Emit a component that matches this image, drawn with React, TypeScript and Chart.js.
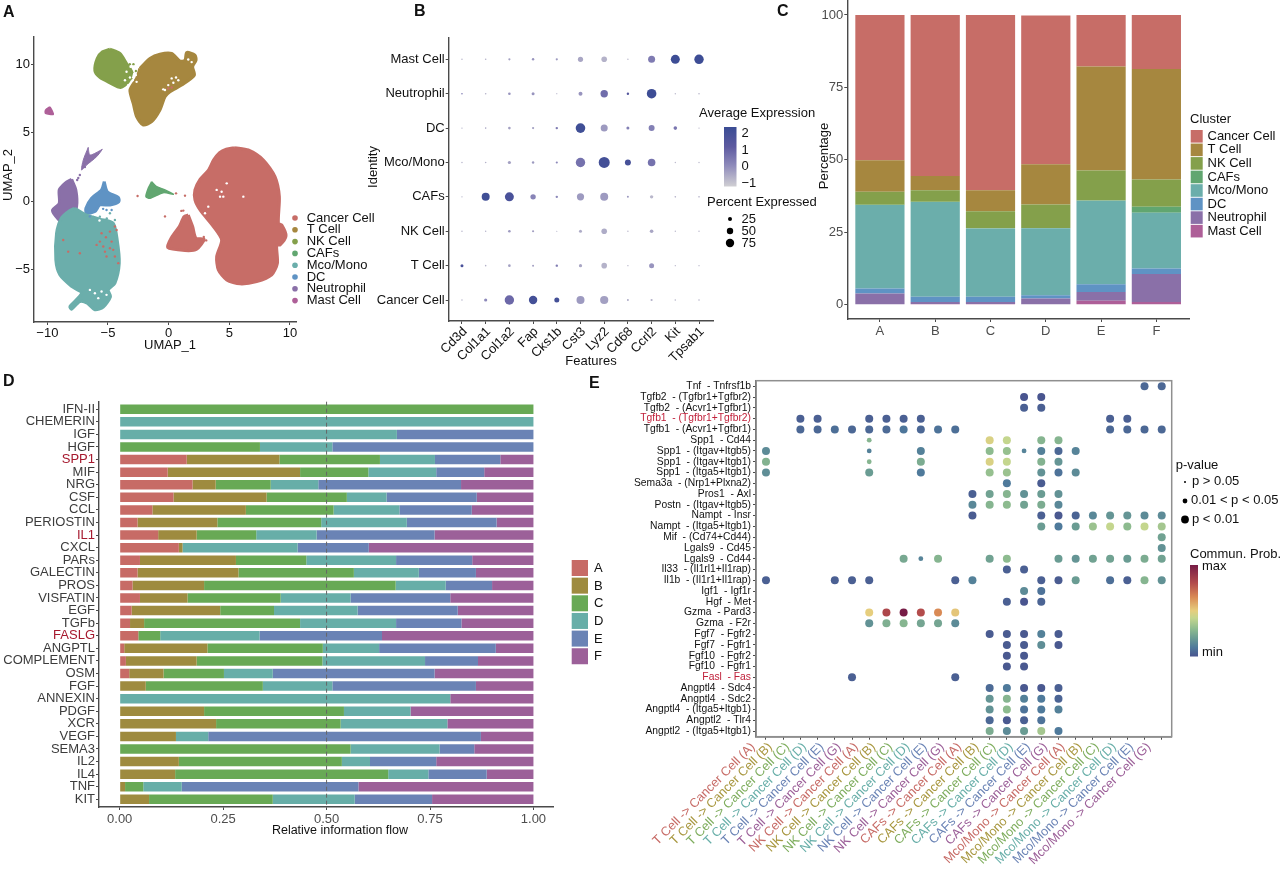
import React, { useEffect, useRef } from "react";
import { Chart, registerables } from "chart.js";

Chart.register(...registerables);

const FONT = "'Liberation Sans', Arial, sans-serif";

// ---------- Panel A : UMAP regions and stray cells (data units) ----------
const cancerMain = [[5.47,3.91],[6.57,3.74],[7.81,3.01],[8.77,1.8],[9.13,0.34],[9.05,-1.6],[9.32,-1.72],[9.68,-2.52],[9.19,-3.18],[8.91,-3.18],[8.97,-4.51],[8.5,-5.36],[7.26,-5.85],[5.89,-6.02],[4.79,-5.73],[4.1,-5],[3.96,-4.03],[4.37,-2.82],[3.69,-1.84],[2.59,-0.63],[2.17,0.1],[2.17,0.83],[2.59,1.6],[3.3,2.3],[3.7,3.0],[4.2,3.55],[4.75,3.8]];
const cancerSmall = [[1.62,-1],[1.98,-1.84],[2.25,-2.69],[2.92,-2.77],[2.31,-3.5],[1.35,-3.59],[-0.08,-3.37],[0.25,-2.62],[0.88,-1.84],[1.27,-1.12]];
const tCell = [[-2.37,9.68],[-1.54,10.41],[-0.72,10.73],[0.25,10.78],[0.94,10.22],[1.35,10.29],[1.49,10.85],[2.17,10.66],[2.26,10.29],[1.98,9.81],[2.12,9.2],[1.07,8.47],[0.11,7.99],[-0.3,7.62],[-0.72,6.65],[-1.4,5.8],[-2.09,5.56],[-2.64,6.17],[-2.92,7.14],[-3.19,8.11],[-2.64,8.96]];
const nkCell = [[-4.84,11.09],[-4.02,10.78],[-3.47,10.05],[-3.05,9.44],[-3.33,8.71],[-3.96,8.3],[-4.84,8.64],[-5.67,9.03],[-6.08,9.51],[-5.89,10.41],[-5.45,10.9]];
const mast = [[-9.79,6.89],[-9.57,6.53],[-9.52,6.33],[-10.15,6.41],[-10.15,6.65]];
const neutroStreak = [[-6.63,3.93],[-6.49,3.37],[-5.67,3.69],[-5.47,3.79],[-5.94,3.25],[-6.77,2.64],[-7.18,2.28],[-7.04,3]];
const neutroMain = [[-8,1.6],[-7.65,0.83],[-7.59,-0.39],[-8,-1.12],[-8.69,-1.6],[-9.38,-1],[-9.57,-0.63],[-9.02,-0.15],[-9.02,0.83],[-8.55,1.31]];
const dc = [[-5.31,1.43],[-5.06,0.7],[-4.15,0.29],[-4.1,-0.02],[-4.84,-0.27],[-5.67,-0.27],[-6.08,-0.75],[-6.77,-0.87],[-6.82,-0.51],[-6.35,0.22],[-5.53,0.83]];
const mono = [[-7.73,-0.51],[-6.9,-0.95],[-5.67,-1.3],[-4.57,-1.6],[-4.24,-2.82],[-4.07,-4.51],[-4.43,-5.97],[-4.98,-6.46],[-4.79,-6.94],[-5.39,-7.72],[-6.08,-7.91],[-6.71,-7.43],[-7.32,-7.31],[-8,-7.86],[-8.14,-7.67],[-7.18,-6.7],[-8,-6.21],[-8.97,-5.36],[-9.3,-4.27],[-9.24,-2.33],[-8.83,-1.2],[-8.2,-0.7]];
const cafs = [[-1.4,1.43],[-0.99,1.07],[-0.3,0.83],[0.39,0.51],[-0.44,0.63],[-1.54,0.22],[-1.87,0.34],[-1.68,0.95]];
const strayRed = [[-4.43,-1.84],[-4.84,-2.21],[-5.17,-2.62],[-4.7,-2.94],[-5.39,-3.3],[-5.94,-3.18],[-4.43,-4.03],[-4.15,-4.51],[-5.12,-4.03],[-5.67,-2.94],[-5.53,-2.33],[-7.32,-3.79],[-8.28,-3.67],[-8.69,-2.82],[-4.84,-3.42],[-4.57,-3.54],[-5.25,-3.67],[-4.29,-2.09],[1.21,-0.68],[1.35,0.41],[0.61,0.58],[-2.56,0.39],[-0.03,8.23],[0.25,8.3],[2.9,-2.6],[3.1,-2.85],[-0.3,-1.1],[1.05,-0.7]];
const strayWhite = [[-0.3,8.11],[-0.03,8.47],[0.25,8.96],[0.61,9.03],[0.39,8.64],[0.8,8.83],[-0.44,8.16],[1.62,10.34],[1.9,10.15],[-3.47,9.44],[-3.19,9.03],[-2.86,9.61],[-2.97,8.83],[-3.33,8.47],[-2.7,9.2],[-3.6,8.83],[-2.64,8.71],[-3.14,9.81],[3.96,0.83],[4.37,0.7],[4.79,1.31],[4.24,0.34],[3.27,-0.39],[6.16,0.34],[4.51,0.34],[3,-0.87],[-6.08,-6.7],[-5.53,-6.58],[-6.49,-6.46],[-5.8,-7.06],[-5.12,-6.82],[-5.9,-1],[-5.4,-0.9],[-5.7,-1.4]];
const strayMono = [[-5.67,-1.12],[-4.84,-0.87],[-4.43,-1.36],[-5.1,-1.25],[-6.2,-1.15]];
const strayDc = [[-5.12,-0.63],[-4.7,-0.63],[-5.4,-0.55],[-6.5,-1.1]];
const strayNeutro = [[-7.32,1.92],[-7.54,1.55],[-7.45,1.7],[-6.9,2.5]];
const strayNK = [[-3.2,10],[-3,9.4],[-2.9,10],[-3.4,9.1],[-2.7,9.5],[-3.05,8.9],[-3.7,9.5]];

const clusters = ["Cancer Cell", "T Cell", "NK Cell", "CAFs", "Mco/Mono", "DC", "Neutrophil", "Mast Cell"];
const clusterColors = ["#C76D67", "#A6873F", "#84A04B", "#61A670", "#6BAEAB", "#5F93C4", "#8A70A8", "#AE5F98"];

// ---------- Panel B : dot plot ----------
const bGenes = ["Cd3d", "Col1a1", "Col1a2", "Fap", "Cks1b", "Cst3", "Lyz2", "Cd68", "Ccrl2", "Kit", "Tpsab1"];
const bIdentities = ["Cancer Cell", "T Cell", "NK Cell", "CAFs", "Mco/Mono", "DC", "Neutrophil", "Mast Cell"];
const bPercent = [
  [0.7,1.6,4.7,4.2,2.5,4,4.1,1,1.1,0.8,0.8],
  [1.5,0.8,1.3,1,1.2,1.6,2.8,0.7,2.5,0.7,0.7],
  [0.7,0.7,1.3,1.1,0.6,1.5,2.8,0.7,1.8,0.7,0.7],
  [0.7,4,4.5,2.7,1.2,3.6,4,1,1.7,0.8,0.8],
  [0.7,0.8,1.6,1.2,1.1,4.7,5.5,3,3.8,0.7,0.7],
  [0.7,0.8,1.3,1.1,1.2,4.8,3.5,1.5,3,1.8,0.7],
  [0.8,0.8,1.3,1.5,0.6,2,3.7,1.2,4.8,0.7,0.8],
  [0.7,0.8,1.1,1.2,1.1,2.6,2.8,0.7,3.5,4.5,4.7],
];
const bExpr = [
  [-0.5,0.2,0.9,2,2,-0.1,-0.2,-0.4,-0.5,-0.6,-0.6],
  [1.8,-0.5,-0.2,-0.2,0.5,-0.3,-0.5,-0.6,0,-0.6,-0.6],
  [-0.5,-0.5,-0.1,-0.2,-0.5,-0.4,-0.4,-0.6,-0.3,-0.6,-0.6],
  [-0.5,2.1,1.8,0.3,0.2,-0.1,-0.1,-0.1,-0.6,-0.5,-0.5],
  [-0.5,-0.5,-0.2,-0.1,0.2,0.7,2,1.9,0.7,-0.6,-0.6],
  [-0.5,-0.3,-0.2,-0.2,0.5,2.1,-0.1,0.4,0.4,0.6,-0.6],
  [0.5,-0.5,0,0,-0.6,0,0.8,1.5,2.2,-0.6,-0.6],
  [-0.5,-0.5,-0.2,0,-0.1,-0.3,-0.5,-0.6,0.5,2.2,2.2],
];

// ---------- Panel C : cluster percentage ----------
const cSamples = ["A", "B", "C", "D", "E", "F"];
const cCancer = [50.1,55.6,60.5,51.3,17.8,18.6];
const cT = [10.9,4.9,7.2,13.9,35.9,38.2];
const cNK = [4.5,3.9,5.9,8.1,10.3,9.4];
const cCAFs = [0.1,0.1,0.1,0.1,0.1,2];
const cMono = [28.8,32.7,23.5,23.1,28.8,19.3];
const cDC = [1.7,1.8,1.8,1.1,2.7,1.9];
const cNeutro = [3.7,0.7,0.7,2,3,9.6];
const cMast = [0.2,0.3,0.3,0.2,1.4,1];

// ---------- Panel D : relative information flow ----------
const dPathways = ["IFN-II","CHEMERIN","IGF","HGF","SPP1","MIF","NRG","CSF","CCL","PERIOSTIN","IL1","CXCL","PARs","GALECTIN","PROS","VISFATIN","EGF","TGFb","FASLG","ANGPTL","COMPLEMENT","OSM","FGF","ANNEXIN","PDGF","XCR","VEGF","SEMA3","IL2","IL4","TNF","KIT"];
const dRed = ["SPP1", "IL1", "FASLG"];
const dA = [0,0,0,0,.162,.116,.176,.13,.079,.043,.093,.143,.049,.043,.031,.049,.029,.025,.045,.011,.015,.023,0,0,0,0,0,0,0,0,0,0];
const dB = [0,0,0,0,.224,.32,.056,.225,.226,.193,.093,.009,.232,.244,.173,.115,.214,.034,0,.201,.171,.083,.063,0,.204,.233,.136,0,.143,.134,.013,.071];
const dC = [1,0,0,.339,.243,.165,.133,.194,.212,.251,.144,0,.17,.279,.463,.225,.13,.377,.053,.279,.304,.146,.283,0,.338,.301,0,.558,.394,.515,.044,.299];
const dD = [0,1,.67,.175,.133,.164,.115,.096,.159,.207,.146,.278,.217,.157,.121,.169,.202,.232,.24,.136,.248,.118,.168,.799,.161,.258,.078,.215,.068,.097,.093,.198];
const dE = [0,0,.33,.486,.158,.116,.345,.218,.175,.217,.285,.172,.184,.138,.112,.241,.242,.158,.296,.282,.128,.391,.347,0,0,0,.659,.084,.16,.141,.427,.187];
const dF = [0,0,0,0,.08,.119,.175,.137,.149,.089,.239,.398,.148,.139,.1,.201,.183,.174,.366,.091,.134,.239,.139,.201,.297,.208,.127,.143,.235,.113,.423,.245];
const dSamples = ["A", "B", "C", "D", "E", "F"];
const dColors = ["#C76B66", "#9E8B3F", "#68A955", "#67AEA8", "#6A83B5", "#9C6099"];

// ---------- Panel E : ligand-receptor bubbles ----------
const eLR = ["Tnf  - Tnfrsf1b","Tgfb2  - (Tgfbr1+Tgfbr2)","Tgfb2  - (Acvr1+Tgfbr1)","Tgfb1  - (Tgfbr1+Tgfbr2)","Tgfb1  - (Acvr1+Tgfbr1)","Spp1  - Cd44","Spp1  - (Itgav+Itgb5)","Spp1  - (Itgav+Itgb1)","Spp1  - (Itga5+Itgb1)","Sema3a  - (Nrp1+Plxna2)","Pros1  - Axl","Postn  - (Itgav+Itgb5)","Nampt  - Insr","Nampt  - (Itga5+Itgb1)","Mif  - (Cd74+Cd44)","Lgals9  - Cd45","Lgals9  - Cd44","Il33  - (Il1rl1+Il1rap)","Il1b  - (Il1r1+Il1rap)","Igf1  - Igf1r","Hgf  - Met","Gzma  - Pard3","Gzma  - F2r","Fgf7  - Fgfr2","Fgf7  - Fgfr1","Fgf10  - Fgfr2","Fgf10  - Fgfr1","Fasl  - Fas","Angptl4  - Sdc4","Angptl4  - Sdc2","Angptl4  - (Itga5+Itgb1)","Angptl2  - Tlr4","Angptl2  - (Itga5+Itgb1)"];
const eRed = ["Tgfb1  - (Tgfbr1+Tgfbr2)", "Fasl  - Fas"];
const eSources = ["T Cell", "NK Cell", "CAFs", "Mco/Mono"];
const eTargets = ["A", "B", "C", "D", "E", "G"];
const eTargetColors = ["#C76B66", "#A8973F", "#7EAD5D", "#67AEA8", "#6A83B5", "#9C6099"];
// one list per row: [column, probability 0..1, p-class (1 = mid p, default 2 = p<0.01)]
const eDots: number[][][] = [
  [[22,.05],[23,.05]],
  [[15,0],[16,0]],
  [[15,.03],[16,.03]],
  [[2,.03],[3,.03],[6,.03],[7,.03],[8,.03],[9,.03],[20,.03],[21,.03]],
  [[2,.05],[3,.05],[4,.07],[5,.05],[6,.05],[7,.06],[8,.09],[9,.05],[10,.08],[11,.07],[20,.05],[21,.05],[22,.05],[23,.05]],
  [[6,.28,1],[13,.47],[14,.42],[16,.28],[17,.28]],
  [[0,.15],[6,.12,1],[9,.12],[13,.3],[14,.32],[15,.13,1],[16,.12],[17,.05],[18,.13]],
  [[0,.27],[6,.28,1],[9,.25],[13,.47],[14,.42],[16,.27],[17,.18]],
  [[0,.16],[6,.2],[9,.1],[13,.32],[14,.33],[16,.17],[17,.08],[18,.15]],
  [[14,.1],[16,.02]],
  [[12,.03],[13,.22],[14,.28],[15,.17],[16,.2],[17,.17]],
  [[12,.14],[13,.28],[14,.3],[15,.22],[16,.25],[17,.14]],
  [[12,.02],[16,.03],[17,.01],[18,.04],[19,.14],[20,.18],[21,.18],[22,.15],[23,.15]],
  [[16,.2],[17,.1],[18,.2],[19,.33],[20,.42],[21,.3],[22,.42],[23,.35]],
  [[23,.22]],
  [[23,.17]],
  [[8,.24],[9,.13,1],[10,.28],[13,.22],[14,.3],[17,.2],[18,.18],[19,.22],[20,.22],[21,.2],[22,.25],[23,.22]],
  [[14,.03],[15,.03]],
  [[0,.03],[4,.03],[5,.03],[6,.03],[11,.03],[12,.12],[16,.03],[17,.02],[18,.2],[20,.07],[21,.03],[22,.28],[23,.17]],
  [[15,.15],[16,.08]],
  [[14,.03],[15,0],[16,.04]],
  [[6,.5],[7,.82],[8,1],[9,.8],[10,.65],[11,.52]],
  [[6,.17],[7,.26],[8,.28],[9,.23],[10,.23],[11,.15]],
  [[13,.02],[14,.02],[15,.01],[16,.12],[17,.02]],
  [[14,.02],[15,.02],[16,.16],[17,.01]],
  [[14,.01],[15,.01]],
  [[14,.01],[15,.01]],
  [[5,.03],[11,.03]],
  [[13,.06],[14,.1],[15,.01],[16,.01],[17,.03]],
  [[13,.18],[14,.28],[15,.12],[16,.1],[17,.04]],
  [[13,.17],[14,.3],[15,.08],[16,.1],[17,.12]],
  [[13,.05],[14,.01],[15,.03],[16,.08]],
  [[13,.25],[14,.15],[15,.2],[16,.35],[17,.1]],
];

// ---------- helpers ----------
type Stop = [number, string];
const exprStops: Stop[] = [[0,"#D0CFD3"],[0.35,"#8F8BBB"],[0.67,"#5D5AA0"],[1,"#3A4C94"]];
const probStops: Stop[] = [[0,"#49558F"],[0.1,"#4F7A9B"],[0.2,"#6A9C93"],[0.3,"#8DBB8F"],[0.42,"#C4D68E"],[0.5,"#E6CE7E"],[0.65,"#D98A55"],[0.8,"#B34C4C"],[1,"#761C46"]];

function ramp(stops: Stop[], t: number) {
  const v = Math.max(0, Math.min(1, t));
  for (let i = 1; i < stops.length; i++) {
    if (v <= stops[i][0]) {
      const [a, ca] = stops[i - 1];
      const [b, cb] = stops[i];
      const f = (v - a) / (b - a);
      const ch = (c: string, k: number) => parseInt(c.slice(1 + 2 * k, 3 + 2 * k), 16);
      const m = [0, 1, 2].map((k) => Math.round(ch(ca, k) + (ch(cb, k) - ch(ca, k)) * f));
      return `rgb(${m[0]},${m[1]},${m[2]})`;
    }
  }
  return stops[stops.length - 1][1];
}

function txt(ctx: any, s: string, x: number, y: number, o: any = {}) {
  ctx.save();
  ctx.font = `${o.bold ? "bold " : ""}${o.size || 13}px ${FONT}`;
  ctx.fillStyle = o.color || "#111";
  ctx.textAlign = o.align || "left";
  ctx.textBaseline = "middle";
  ctx.translate(x, y);
  if (o.rot) ctx.rotate(o.rot);
  ctx.fillText(s, 0, 0);
  ctx.restore();
}

function vGradient(ctx: any, x: number, y0: number, w: number, y1: number, stops: Stop[]) {
  const g = ctx.createLinearGradient(0, y1, 0, y0);
  stops.forEach(([p, c]) => g.addColorStop(p, c));
  ctx.fillStyle = g;
  ctx.fillRect(x, y0, w, y1 - y0);
}

function dot(ctx: any, x: number, y: number, r: number, color: string) {
  ctx.beginPath();
  ctx.arc(x, y, r, 0, Math.PI * 2);
  ctx.fillStyle = color;
  ctx.fill();
}

const AXIS = "#4A4A4A";

function axis(min: number, max: number, step: number, fit: (s: any) => void, o: any = {}) {
  return {
    type: "linear",
    min, max,
    offset: false,
    reverse: !!o.reverse,
    stacked: !!o.stacked,
    afterFit: fit,
    ticks: {
      stepSize: step,
      includeBounds: false,
      autoSkip: false,
      minRotation: o.rot || 0,
      maxRotation: o.rot || 0,
      padding: o.padding ?? 1,
      labelOffset: o.labelOffset || 0,
      font: { family: FONT, size: o.size || 13 },
      color: o.color || "#111",
      callback: o.label,
    },
    grid: { offset: false, drawOnChartArea: false, drawTicks: true, tickLength: 3, tickColor: AXIS, tickWidth: 1 },
    border: { display: true, color: AXIS, width: o.border ?? 1.4 },
  };
}

type Rect = { x: number; y: number; w: number; h: number };
type Area = { l: number; t: number; r: number; b: number };

function layoutFor(rect: Rect, a: Area) {
  return {
    padding: { left: 0, top: a.t - rect.y, right: rect.x + rect.w - a.r, bottom: 0 },
  };
}
const fitW = (rect: Rect, a: Area) => (s: any) => { s.width = a.l - rect.x; };
const fitH = (rect: Rect, a: Area) => (s: any) => { s.height = rect.y + rect.h - a.b; };

function base(rect: Rect, a: Area, scales: any, datasets: any[], type: string, draw: any, extra: any = {}) {
  return {
    type,
    data: { datasets },
    options: {
      responsive: false,
      maintainAspectRatio: false,
      animation: false,
      events: [],
      layout: layoutFor(rect, a),
      scales,
      plugins: { legend: { display: false }, tooltip: { enabled: false } },
      ...extra,
    },
    plugins: [
      {
        id: "page-" + rect.x + "-" + Math.abs(rect.y),
        beforeDatasetsDraw(chart: any) {
          if (!draw.under) return;
          const c = chart.ctx; c.save(); c.translate(-rect.x, -rect.y); draw.under(c, chart); c.restore();
        },
        afterDatasetsDraw(chart: any) {
          if (!draw.over) return;
          const c = chart.ctx; c.save(); c.translate(-rect.x, -rect.y); draw.over(c, chart); c.restore();
        },
      },
    ],
  };
}

const closed = (p: number[][]) => [...p, p[0]];
const region = (data: number[][], color: string, border = 3) => ({
  type: "line", data: closed(data), fill: "shape", backgroundColor: color, borderColor: color,
  borderWidth: border, pointRadius: 0, tension: 0.25, order: 5,
});
const specks = (data: number[][], color: string) => ({
  type: "scatter", data, backgroundColor: color, borderWidth: 0, pointRadius: 1.2, order: 1,
});

const minus = (v: number) => (v < 0 ? "\u2212" + Math.abs(v) : String(v));

// ---------- Panel builders ----------
const rectA: Rect = { x: 0, y: 0, w: 376, h: 365 };
const areaA: Area = { l: 34, t: 36.7, r: 296.7, b: 322 };
function panelA() {
  const ds = [
    specks(strayWhite, "#FFFFFF"),
    specks(strayRed, clusterColors[0]),
    specks(strayMono, clusterColors[4]),
    specks(strayDc, clusterColors[5]),
    specks(strayNeutro, clusterColors[6]),
    specks(strayNK, clusterColors[2]),
    region(cancerMain, clusterColors[0]),
    region(cancerSmall, clusterColors[0]),
    region(tCell, clusterColors[1]),
    region(nkCell, clusterColors[2]),
    region(cafs, clusterColors[3], 1.5),
    region(mono, clusterColors[4]),
    region(dc, clusterColors[5]),
    region(neutroStreak, clusterColors[6], 1),
    region(neutroMain, clusterColors[6]),
    region(mast, clusterColors[7], 1.5),
  ];
  const scales = {
    x: axis(-11.1, 10.56, 5, fitH(rectA, areaA), { label: minus }),
    y: axis(-8.8, 12, 5, fitW(rectA, areaA), { label: minus }),
  };
  return base(rectA, areaA, scales, ds, "scatter", {
    over(c: any) {
      txt(c, "A", 3, 13, { bold: true, size: 16 });
      txt(c, "UMAP_1", 170, 345.7, { align: "center" });
      txt(c, "UMAP_2", 8, 175, { align: "center", rot: -Math.PI / 2 });
      clusters.forEach((n, i) => {
        const y = 218 + i * 11.8;
        dot(c, 295, y, 2.8, clusterColors[i]);
        txt(c, n, 306.7, y);
      });
    },
  });
}

const rectB: Rect = { x: 364, y: 0, w: 454, h: 372 };
const areaB: Area = { l: 448.7, t: 38, r: 713, b: 321 };
function panelB() {
  const ds = bIdentities.map((_, row) => ({
    data: bGenes.map((_g, col) => ({ x: col, y: row, r: bPercent[row][col] })),
    backgroundColor: bExpr[row].map((e) => ramp(exprStops, (e + 1) / 3.3)),
    borderWidth: 0,
  }));
  const scales = {
    x: axis(-0.56, 10.59, 1, fitH(rectB, areaB), { rot: 45, labelOffset: 3, padding: 0, label: (v: number) => bGenes[v] }),
    y: axis(-0.61, 7.62, 1, fitW(rectB, areaB), { label: (v: number) => bIdentities[v] }),
  };
  return base(rectB, areaB, scales, ds, "bubble", {
    over(c: any) {
      txt(c, "B", 414, 12, { bold: true, size: 16 });
      txt(c, "C", 777, 12, { bold: true, size: 16 });
      txt(c, "Features", 591, 361, { align: "center" });
      txt(c, "Identity", 373.5, 167, { align: "center", rot: -Math.PI / 2 });
      txt(c, "Average Expression", 699, 113);
      vGradient(c, 724, 127, 12.5, 186.5, exprStops);
      [["2", 133], ["1", 150], ["0", 166], ["\u22121", 183]].forEach(([s, y]: any) => txt(c, s, 741.5, y));
      txt(c, "Percent Expressed", 707, 202);
      [["25", 219, 2], ["50", 231, 3.2], ["75", 243, 4.2]].forEach(([s, y, r]: any) => {
        dot(c, 730, y, r, "#000");
        txt(c, s, 741.5, y);
      });
    },
  });
}

const rectC: Rect = { x: 815, y: -20, w: 465, h: 365 };
const areaC: Area = { l: 847.3, t: 0.5, r: 1189, b: 319 };
function panelC() {
  const series = [cCancer, cT, cNK, cCAFs, cMono, cDC, cNeutro, cMast];
  const ds = series.map((vals, i) => ({
    label: clusters[i],
    data: vals.map((v, k) => ({ x: k, y: v })),
    backgroundColor: clusterColors[i],
    borderWidth: 0,
    barPercentage: 0.89,
    categoryPercentage: 1,
  })).reverse();
  const scales = {
    x: axis(-0.59, 5.59, 1, fitH(rectC, areaC), { stacked: true, color: "#4D4D4D", padding: 2, label: (v: number) => cSamples[v] }),
    y: axis(-4.9, 105, 25, fitW(rectC, areaC), { stacked: true, color: "#4D4D4D" }),
  };
  return base(rectC, areaC, scales, ds, "bar", {
    over(c: any) {
      txt(c, "Percentage", 824, 156, { align: "center", rot: -Math.PI / 2 });
      txt(c, "Cluster", 1190, 119);
      clusters.forEach((n, i) => {
        const y = 130 + i * 13.55;
        c.fillStyle = clusterColors[i];
        c.fillRect(1190.7, y, 12, 12.6);
        txt(c, n, 1207.5, y + 6.3);
      });
    },
  });
}

const rectD: Rect = { x: 0, y: 370, w: 612, h: 499 };
const areaD: Area = { l: 99, t: 401.7, r: 553.3, b: 807 };
function panelD() {
  const series = [dA, dB, dC, dD, dE, dF];
  const ds = series.map((vals, i) => ({
    label: dSamples[i],
    data: vals.map((v, k) => ({ x: v, y: k })),
    backgroundColor: dColors[i],
    borderWidth: 0,
    barPercentage: 0.76,
    categoryPercentage: 1,
  }));
  const scales = {
    x: axis(-0.05, 1.048, 0.25, fitH(rectD, areaD), { stacked: true, color: "#4D4D4D", padding: 2, label: (v: number) => v.toFixed(2) }),
    y: {
      ...axis(-0.6, 31.61, 1, fitW(rectD, areaD), { stacked: true, reverse: true, padding: 1, label: (v: number) => dPathways[v] }),
    },
  };
  (scales.y.ticks as any).color = (ctx: any) => (dRed.includes(dPathways[ctx.tick.value]) ? "#A6192E" : "#3C3C3C");
  return base(rectD, areaD, scales, ds, "bar", {
    over(c: any, chart: any) {
      txt(c, "D", 3, 382, { bold: true, size: 16 });
      txt(c, "Relative information flow", 340, 831, { align: "center", size: 12.5 });
      const x = chart.scales.x.getPixelForValue(0.5);
      c.save();
      c.strokeStyle = "#666";
      c.lineWidth = 1;
      c.setLineDash([4, 3]);
      c.beginPath();
      c.moveTo(x, areaD.t);
      c.lineTo(x, areaD.b);
      c.stroke();
      c.restore();
      dSamples.forEach((s, i) => {
        const y = 560 + i * 17.65;
        c.fillStyle = dColors[i];
        c.fillRect(571.7, y, 16.3, 16);
        txt(c, s, 594, y + 8.5);
      });
    },
  }, { indexAxis: "y" });
}

const rectE: Rect = { x: 585, y: 370, w: 695, h: 499 };
const areaE: Area = { l: 756, t: 380.7, r: 1171.7, b: 736.7 };
function panelE() {
  const eLabels: string[] = [];
  const eColors: string[] = [];
  eSources.forEach((s) => eTargets.forEach((t, i) => {
    eLabels.push(`${s} -> Cancer Cell (${t})`);
    eColors.push(eTargetColors[i]);
  }));
  const points: any[] = [];
  const colors: string[] = [];
  eDots.forEach((row, y) => row.forEach(([col, prob, cls]) => {
    points.push({ x: col, y, r: cls === 1 ? 2.4 : 4 });
    colors.push(ramp(probStops, prob));
  }));
  const ds = [{ data: points, backgroundColor: colors, borderWidth: 0 }];
  const scales: any = {
    x: axis(-0.58, 23.58, 1, fitH(rectE, areaE), { rot: 45, size: 12.7, labelOffset: -13, padding: 0, border: 1.5, label: (v: number) => eLabels[v] }),
    y: axis(-0.52, 32.52, 1, fitW(rectE, areaE), { reverse: true, size: 10.3, padding: 2, border: 1.5, label: (v: number) => eLR[v] }),
  };
  scales.x.ticks.color = (ctx: any) => eColors[ctx.tick.value];
  scales.y.ticks.color = (ctx: any) => (eRed.includes(eLR[ctx.tick.value]) ? "#C0203A" : "#111");
  return base(rectE, areaE, scales, ds, "bubble", {
    under(c: any, chart: any) {
      const sx = chart.scales.x, sy = chart.scales.y;
      c.save();
      c.strokeStyle = "#ECECEC";
      c.lineWidth = 0.8;
      for (let i = 0; i < 23; i++) {
        const x = sx.getPixelForValue(i + 0.5);
        c.beginPath(); c.moveTo(x, areaE.t); c.lineTo(x, areaE.b); c.stroke();
      }
      for (let i = 0; i < 32; i++) {
        const y = sy.getPixelForValue(i + 0.5);
        c.beginPath(); c.moveTo(areaE.l, y); c.lineTo(areaE.r, y); c.stroke();
      }
      c.strokeStyle = "#BDBDBD";
      c.lineWidth = 1;
      c.setLineDash([4, 3]);
      [5.5, 11.5, 17.5].forEach((v) => {
        const x = sx.getPixelForValue(v);
        c.beginPath(); c.moveTo(x, areaE.t); c.lineTo(x, areaE.b); c.stroke();
      });
      c.setLineDash([]);
      c.strokeStyle = "#8F8F8F";
      c.lineWidth = 1.5;
      c.strokeRect(areaE.l, areaE.t, areaE.r - areaE.l, areaE.b - areaE.t);
      c.restore();
    },
    over(c: any) {
      txt(c, "E", 589, 384, { bold: true, size: 16 });
      txt(c, "p-value", 1175.7, 465);
      dot(c, 1185, 482, 1, "#000"); txt(c, "p > 0.05", 1192, 481);
      dot(c, 1185, 501, 2.4, "#000"); txt(c, "0.01 < p < 0.05", 1191, 500);
      dot(c, 1185, 519.5, 3.9, "#000"); txt(c, "p < 0.01", 1192, 519);
      txt(c, "Commun. Prob.", 1190, 554);
      vGradient(c, 1190, 565, 8, 656.5, probStops);
      txt(c, "max", 1202, 566);
      txt(c, "min", 1202, 652);
    },
  });
}

const panels = [
  { rect: rectA, make: panelA },
  { rect: rectB, make: panelB },
  { rect: rectC, make: panelC },
  { rect: rectD, make: panelD },
  { rect: rectE, make: panelE },
];

export default function App() {
  const refs = useRef<(HTMLCanvasElement | null)[]>([]);
  useEffect(() => {
    const charts = panels.map((p, i) => new Chart(refs.current[i] as any, p.make() as any));
    return () => charts.forEach((c) => c.destroy());
  }, []);
  return (
    <div style={{ position: "absolute", left: 0, top: 0, width: 1280, height: 869, background: "#fff", overflow: "hidden" }}>
      {panels.map((p, i) => (
        <canvas
          key={i}
          ref={(el) => { refs.current[i] = el; }}
          width={p.rect.w}
          height={p.rect.h}
          style={{ position: "absolute", left: p.rect.x, top: p.rect.y, width: p.rect.w, height: p.rect.h, display: "block" }}
        />
      ))}
    </div>
  );
}
